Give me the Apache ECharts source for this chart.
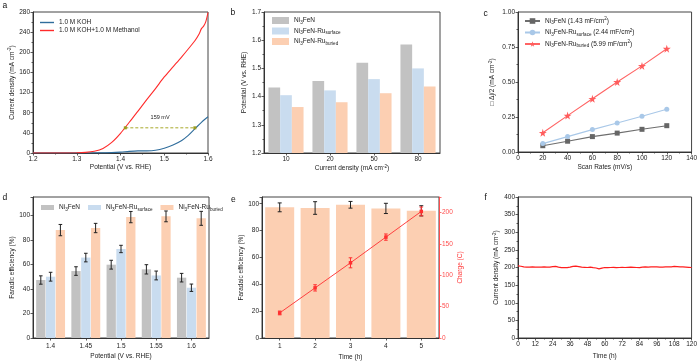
<!DOCTYPE html>
<html><head><meta charset="utf-8">
<script src="https://cdn.jsdelivr.net/npm/echarts@6/dist/echarts.min.js"></script>
<style>html,body{margin:0;padding:0;background:#fff}#c{width:700px;height:363px}</style>
</head><body><div id="c"></div>
<script>
// ---------- DATA ----------
// (a) LSV curves  [potential V vs RHE, current density mA cm-2]
const aKOH = [[1.2,0],[1.25,0],[1.3,0],[1.35,0.2],[1.38,0.8],[1.40,1.8],[1.42,3.3],[1.44,4.2],[1.46,4.3],[1.48,5.5],[1.50,9.5],[1.52,16],[1.54,25],[1.555,35],[1.57,48],[1.585,61],[1.60,72]];
const aMeOH = [[1.2,0],[1.25,0],[1.3,0.4],[1.32,1.2],[1.34,3.5],[1.36,9],[1.38,21],[1.40,39],[1.42,61],[1.44,83],[1.46,106],[1.48,128],[1.50,151],[1.52,171],[1.54,191],[1.56,212],[1.57,223],[1.58,237],[1.585,247],[1.59,252],[1.595,261],[1.60,279]];
const aGap = [[1.411,50],[1.57,50]];
const aGapLabel = '159 mV';
// (b) potentials at current densities
const bCats = ['10','20','50','80'];
const bNi3FeN = [1.432,1.455,1.520,1.585];
const bSurface = [1.405,1.422,1.462,1.500];
const bBuried = [1.363,1.380,1.412,1.436];
// (c) Cdl
const cRates = [20,40,60,80,100,120];
const cNi3FeN = [0.045,0.077,0.110,0.135,0.162,0.188];
const cSurface = [0.060,0.110,0.160,0.207,0.255,0.305];
const cBuried = [0.137,0.260,0.380,0.500,0.615,0.738];
// (d) Faradaic efficiency vs potential
const dCats = ['1.4','1.45','1.5','1.55','1.6'];
const dNi3FeN = [47.3,54.6,59.8,56.0,49.2];
const dNi3FeNErr = [3.4,3.5,3.6,3.8,3.5];
const dSurface = [50.0,65.6,72.6,51.0,41.0];
const dSurfaceErr = [3.6,3.5,3.0,3.6,3.0];
const dBuried = [88.0,89.7,98.6,99.2,97.6];
const dBuriedErr = [4.6,3.8,4.6,4.4,5.7];
// (e) stability of FE and charge
const eCats = ['1','2','3','4','5'];
const eFE = [97.3,96.8,99.2,96.5,94.7];
const eFEErr = [3.3,4.7,2.5,3.8,3.8];
const eCharge = [40,80,120,161,202];
const eChargeErr = [3,5,8,5,7];
// (f) chronoamperometry
const fTime = [0,2,4,6,8,10,12,14,16,18,20,22,24,26,28,30,32,34,36,38,40,42,44,46,48,50,52,54,56,57,58,60,62,64,66,68,70,72,74,76,78,80,82,84,86,88,90,92,94,96,98,100,102,104,106,108,110,112,114,116,118,120];
const fCurrent = [204.5,203.5,202,201,201,201.5,201,201,201,201.5,201,201,202.5,203,201,199.5,200,199.5,201,203,204,202.5,201,200.5,200,201,199.5,198.5,196,193.5,198,200,199.5,200,200.5,199.5,200,200.5,200,200.5,201,200.5,200,199.5,201,201.5,201,201.5,202,201.5,201,201,201.5,201.5,202,203,202.5,202,201.5,201,200.5,200];

// ---------- STYLE ----------
const F = 'Liberation Sans';
const TXT = '#222';
const FS = 6.5;
const GRAY = '#c2c2c2', BLUE = '#c9dcef', PEACH = '#fccfb2';
function rich(color){
  return {
    t:{fontFamily:F,fontSize:FS,color:color,lineHeight:9},
    s:{fontFamily:F,fontSize:4.6,color:color,lineHeight:5,verticalAlign:'bottom'},
    p:{fontFamily:F,fontSize:4.6,color:color,lineHeight:5,verticalAlign:'top'}
  };
}
const RICH = rich(TXT);
const LEG = {
  b1:'{t|Ni}{s|3}{t|FeN}', b2:'{t|Ni}{s|3}{t|FeN-Ru}{s|surface}', b3:'{t|Ni}{s|3}{t|FeN-Ru}{s|buried}',
  c1:'{t|Ni}{s|3}{t|FeN (1.43 mF/cm}{p|2}{t|)}', c2:'{t|Ni}{s|3}{t|FeN-Ru}{s|surface}{t| (2.44 mF/cm}{p|2}{t|)}', c3:'{t|Ni}{s|3}{t|FeN-Ru}{s|buried}{t| (5.99 mF/cm}{p|2}{t|)}',
  d1:'{t|Ni}{s|3}{t|FeN}', d2:'{t|Ni}{s|3}{t|FeN-Ru}{s|surface}', d3:'{t|Ni}{s|3}{t|FeN-Ru}{s|buried}',
  a1:'{t|1.0 M KOH}', a2:'{t|1.0 M KOH+1.0 M Methanol}'
};
function isObj(o){return o && typeof o==='object' && !Array.isArray(o);}
function merge(a,b){const r=Object.assign({},a);for(const k in b){r[k]=(isObj(a[k])&&isObj(b[k]))?merge(a[k],b[k]):b[k];}return r;}
const AX = {
  nameLocation:'middle',
  nameTextStyle:{fontFamily:F,fontSize:FS,color:TXT,rich:RICH},
  axisLine:{show:true,onZero:false,lineStyle:{color:'#333',width:1}},
  axisTick:{show:true,length:2.5,lineStyle:{color:'#333',width:0.8}},
  minorTick:{show:false},
  axisLabel:{fontFamily:F,fontSize:FS,color:TXT,margin:3},
  splitLine:{show:false}
};
const MINOR = {minorTick:{show:true,splitNumber:2,length:1.5,lineStyle:{color:'#333',width:0.8}}};
function ax(o){return merge(AX,o);}
function stepFmt(step,dec){return function(v){const r=v/step;return Math.abs(r-Math.round(r))<1e-6?v.toFixed(dec):'';};}

const grids = [
  {left:33,top:12,width:175,height:141},
  {left:264,top:12,width:176,height:141},
  {left:518,top:12,width:174,height:140},
  {left:33,top:197,width:176,height:141},
  {left:262,top:197,width:177,height:141},
  {left:518,top:197,width:174,height:141}
].map(g=>Object.assign({show:true,borderColor:'#444',borderWidth:1,backgroundColor:'transparent'},g));

const xAxis = [
  ax(merge(MINOR,{type:'value',gridIndex:0,min:1.2,max:1.6,interval:0.1,name:'{t|Potential (V vs. RHE)}',nameGap:10,axisLabel:{formatter:v=>v.toFixed(1)}})),
  ax({type:'category',gridIndex:1,data:bCats,name:'{t|Current density (mA cm}{p|-2}{t|)}',nameGap:11,axisTick:{alignWithLabel:true}}),
  ax(merge(MINOR,{type:'value',gridIndex:2,min:0,max:140,interval:20,name:'{t|Scan Rates (mV/s)}',nameGap:11})),
  ax({type:'category',gridIndex:3,data:dCats,name:'{t|Potential (V vs. RHE)}',nameGap:14,axisTick:{alignWithLabel:true},axisLabel:{margin:5}}),
  ax({type:'category',gridIndex:4,data:eCats,name:'{t|Time (h)}',nameGap:15,axisTick:{alignWithLabel:true},axisLabel:{margin:5}}),
  ax(merge(MINOR,{type:'value',gridIndex:5,min:0,max:120,interval:12,name:'{t|Time (h)}',nameGap:14}))
];
const yAxis = [
  ax(merge(MINOR,{type:'value',gridIndex:0,min:0,max:280,interval:40,name:'{t|Current density (mA cm}{p|-2}{t|)}',nameGap:15})),
  ax(merge(MINOR,{type:'value',gridIndex:1,min:1.2,max:1.7,interval:0.1,name:'{t|Potential (V vs. RHE)}',nameGap:15,axisLabel:{formatter:v=>v.toFixed(1)}})),
  ax(merge(MINOR,{type:'value',gridIndex:2,min:0,max:1,interval:0.25,name:'{t|□ Δj/2 (mA cm}{p|-2}{t|)}',nameGap:21,axisLabel:{formatter:v=>v.toFixed(2)}})),
  ax({type:'value',gridIndex:3,min:0,max:115,interval:20,name:'{t|Faradic efficiency (%)}',nameGap:16,axisLabel:{formatter:stepFmt(20,0)}}),
  ax({type:'value',gridIndex:4,min:0,max:105,interval:20,name:'{t|Faradaic efficiency (%)}',nameGap:15,axisLabel:{formatter:stepFmt(20,0)}}),
  ax({type:'value',gridIndex:4,position:'right',min:0,max:225,interval:50,name:'{t|Charge (C)}',nameGap:17,
      nameTextStyle:{rich:rich('#ff3b3b')},axisLine:{lineStyle:{color:'#ff4d4d'}},axisTick:{lineStyle:{color:'#ff4d4d'}},
      axisLabel:{color:'#ff4d4d',formatter:stepFmt(50,0)}}),
  ax(merge(MINOR,{type:'value',gridIndex:5,min:0,max:400,interval:50,name:'{t|Current density (mA cm}{p|-2}{t|)}',nameGap:17}))
];

function errRender(offset,color,cap){
  return function(params,api){
    const x=api.value(0),v=api.value(1),e=api.value(2);
    const hi=api.coord([x,v+e]),lo=api.coord([x,v-e]);
    const cx=hi[0]+offset;
    const st={stroke:color,lineWidth:1};
    return {type:'group',children:[
      {type:'line',shape:{x1:cx,y1:hi[1],x2:cx,y2:lo[1]},style:st},
      {type:'line',shape:{x1:cx-cap,y1:hi[1],x2:cx+cap,y2:hi[1]},style:st},
      {type:'line',shape:{x1:cx-cap,y1:lo[1],x2:cx+cap,y2:lo[1]},style:st}
    ]};
  };
}
function errData(vals,errs){return vals.map((v,i)=>[i,v,errs[i]]);}

const STAR='path://M50,0 L61,35 L98,35 L68,57 L79,91 L50,70 L21,91 L32,57 L2,35 L39,35 Z';
const dBW = 9.3, dGapPx = 0.5;
const series = [
  // a
  {type:'line',name:'a1',xAxisIndex:0,yAxisIndex:0,data:aKOH,showSymbol:false,smooth:0.3,lineStyle:{color:'#2f6d9c',width:1.1},itemStyle:{color:'#2f6d9c'}},
  {type:'line',name:'a2',xAxisIndex:0,yAxisIndex:0,data:aMeOH,showSymbol:false,smooth:0.3,lineStyle:{color:'#ff2b2b',width:1.1},itemStyle:{color:'#ff2b2b'}},
  {type:'line',name:'gap',xAxisIndex:0,yAxisIndex:0,data:aGap,symbol:'rect',symbolSize:[3,3],showSymbol:true,
    itemStyle:{color:'#9c9c1c'},lineStyle:{type:[3,2],color:'#a8a82a',width:1},
    markPoint:{symbol:'circle',symbolSize:0,data:[{coord:[(aGap[0][0]+aGap[1][0])/2,aGap[0][1]]}],
      label:{show:true,position:'top',distance:7,formatter:aGapLabel,fontFamily:F,fontSize:5.5,color:TXT}}},
  // b
  {type:'bar',name:'b1',xAxisIndex:1,yAxisIndex:1,data:bNi3FeN,barWidth:11.7,barGap:'0%',itemStyle:{color:GRAY}},
  {type:'bar',name:'b2',xAxisIndex:1,yAxisIndex:1,data:bSurface,barWidth:11.7,barGap:'0%',itemStyle:{color:BLUE}},
  {type:'bar',name:'b3',xAxisIndex:1,yAxisIndex:1,data:bBuried,barWidth:11.7,barGap:'0%',itemStyle:{color:PEACH}},
  // c
  {type:'line',name:'c1',xAxisIndex:2,yAxisIndex:2,data:cRates.map((r,i)=>[r,cNi3FeN[i]]),symbol:'rect',symbolSize:5,lineStyle:{color:'#6e6e6e',width:1.1},itemStyle:{color:'#666'}},
  {type:'line',name:'c2',xAxisIndex:2,yAxisIndex:2,data:cRates.map((r,i)=>[r,cSurface[i]]),symbol:'circle',symbolSize:5,lineStyle:{color:'#a9c8e8',width:1.1},itemStyle:{color:'#a9c8e8'}},
  {type:'line',name:'c3',xAxisIndex:2,yAxisIndex:2,data:cRates.map((r,i)=>[r,cBuried[i]]),symbol:STAR,symbolSize:8,lineStyle:{color:'#ff6464',width:1.1},itemStyle:{color:'#ff5c5c'}},
  // d
  {type:'bar',name:'d1',xAxisIndex:3,yAxisIndex:3,data:dNi3FeN,barWidth:dBW,barGap:(dGapPx/dBW*100)+'%',itemStyle:{color:GRAY}},
  {type:'bar',name:'d2',xAxisIndex:3,yAxisIndex:3,data:dSurface,barWidth:dBW,barGap:(dGapPx/dBW*100)+'%',itemStyle:{color:BLUE}},
  {type:'bar',name:'d3',xAxisIndex:3,yAxisIndex:3,data:dBuried,barWidth:dBW,barGap:(dGapPx/dBW*100)+'%',itemStyle:{color:PEACH}},
  {type:'custom',xAxisIndex:3,yAxisIndex:3,data:errData(dNi3FeN,dNi3FeNErr),renderItem:errRender(-(dBW+dGapPx),'#222',1.8),encode:{x:0,y:1},z:5},
  {type:'custom',xAxisIndex:3,yAxisIndex:3,data:errData(dSurface,dSurfaceErr),renderItem:errRender(0,'#222',1.8),encode:{x:0,y:1},z:5},
  {type:'custom',xAxisIndex:3,yAxisIndex:3,data:errData(dBuried,dBuriedErr),renderItem:errRender(dBW+dGapPx,'#222',1.8),encode:{x:0,y:1},z:5},
  // e
  {type:'bar',name:'e1',xAxisIndex:4,yAxisIndex:4,data:eFE,barWidth:29,itemStyle:{color:PEACH}},
  {type:'custom',xAxisIndex:4,yAxisIndex:4,data:errData(eFE,eFEErr),renderItem:errRender(0,'#222',2),encode:{x:0,y:1},z:5},
  {type:'line',name:'e2',xAxisIndex:4,yAxisIndex:5,data:eCharge,symbol:'rect',symbolSize:3.5,lineStyle:{color:'#ff4040',width:1},itemStyle:{color:'#ff3030'},z:6},
  {type:'custom',xAxisIndex:4,yAxisIndex:5,data:errData(eCharge,eChargeErr),renderItem:errRender(0,'#ff3030',1.8),encode:{x:0,y:1},z:6},
  // f
  {type:'line',name:'f1',xAxisIndex:5,yAxisIndex:6,data:fTime.map((t,i)=>[t,fCurrent[i]]),showSymbol:false,lineStyle:{color:'#ff1e1e',width:1.2}}
];

const legText = {fontFamily:F,fontSize:FS,color:TXT,rich:RICH};
const fmt = n=>LEG[n];
const legend = [
  {data:['a1','a2'],orient:'vertical',left:35,top:14,itemWidth:14,itemHeight:6,itemGap:1,formatter:fmt,textStyle:legText,selectedMode:false,icon:'path://M0,0 L10,0 L10,1 L0,1 Z'},
  {data:['b1','b2','b3'],orient:'vertical',left:267,top:12,itemWidth:17,itemHeight:7,itemGap:2.5,icon:'rect',formatter:fmt,textStyle:legText,selectedMode:false},
  {data:['c1','c2','c3'],orient:'vertical',left:519,top:11.5,itemWidth:15,itemHeight:7,itemGap:2.5,formatter:fmt,textStyle:legText,selectedMode:false},
  {data:['d1','d2','d3'],orient:'horizontal',left:36,top:199,itemWidth:13,itemHeight:5,itemGap:8,icon:'rect',formatter:fmt,textStyle:legText,selectedMode:false}
];

const letters = [['a',2.5,1.5],['b',230.5,8],['c',483.5,9],['d',2.5,193],['e',231,195],['f',484.5,193]];
const graphic = letters.map(l=>({type:'text',left:l[1],top:l[2],style:{text:l[0],font:'8.5px "Liberation Sans"',fill:'#111'}}));

const chart = echarts.init(document.getElementById('c'),null,{renderer:'canvas'});
chart.setOption({animation:false,backgroundColor:'#fff',grid:grids,xAxis:xAxis,yAxis:yAxis,series:series,legend:legend,graphic:graphic});
</script></body></html>
